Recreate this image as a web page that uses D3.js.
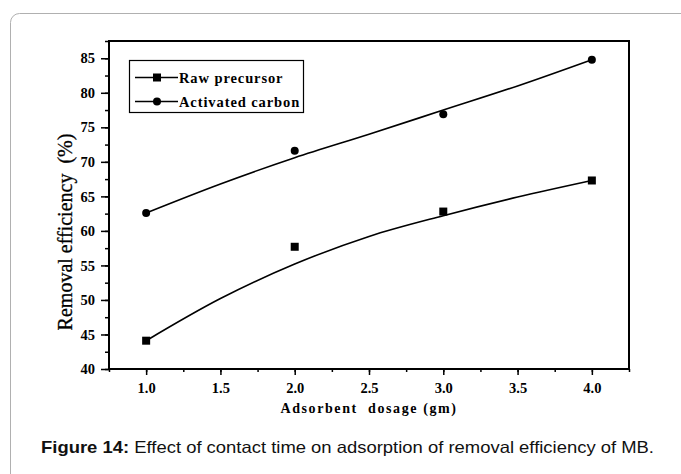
<!DOCTYPE html>
<html>
<head>
<meta charset="utf-8">
<title>Removal efficiency vs adsorbent dosage</title>
<script src="https://d3js.org/d3.v7.min.js"></script>
<style type="text/css">
	body { margin: 0; background: #fff; }
	svg { display: block; }
	.tick text { font-family: "Liberation Serif", "Times New Roman", serif; font-weight: bold; font-size: 14.5px; fill: #000; }
</style>
</head>
<body>
<div id="chart"></div>
<script type="text/javascript">
// measured points
var dosage = [1.0, 2.0, 3.0, 4.0];
var rawPrecursor = [44.1, 57.7, 62.8, 67.3];
var activatedCarbon = [62.6, 71.6, 76.9, 84.8];

// fitted curves
var fitDosage = [1.0, 1.5, 2.0, 2.5, 3.0, 3.5, 4.0];
var rawFit = [44.1, 50.2, 55.2, 59.2, 62.2, 64.9, 67.3];
var carbonFit = [62.6, 66.8, 70.6, 74.0, 77.5, 81.0, 84.8];

var xTicks = [1.0, 1.5, 2.0, 2.5, 3.0, 3.5, 4.0];
var yTicks = [40, 45, 50, 55, 60, 65, 70, 75, 80, 85];

var W = 681, H = 474;
var plotLeft = 109, plotRight = 629, plotTop = 41, plotBottom = 369;

var svg = d3.select("#chart")
	.append("svg")
	.attr("width", W)
	.attr("height", H);

svg.append("rect")
	.attr("width", W).attr("height", H)
	.attr("fill", "#fff");

// outer figure frame (runs off the right and bottom)
svg.append("rect")
	.attr("x", 10.5).attr("y", 13.5)
	.attr("width", 700).attr("height", 500)
	.attr("rx", 9)
	.attr("fill", "none")
	.attr("stroke", "#b0b0b0")
	.attr("stroke-width", 1);

var x = d3.scaleLinear().domain([0.75, 4.25]).range([plotLeft, plotRight]);
var y = d3.scaleLinear().domain([40, 87.5]).range([plotBottom, plotTop]);

// minor ticks
var xMinor = d3.range(0.75, 4.26, 0.25);
var yMinor = d3.range(40, 87.6, 2.5);

function thinTicks(g) {
	g.select(".domain").remove();
	g.selectAll("line").attr("stroke-width", 1.5);
}

svg.append("g")
	.attr("transform", "translate(0," + plotBottom + ")")
	.call(d3.axisBottom(x).tickValues(xMinor).tickSize(3).tickFormat(""))
	.call(thinTicks);

svg.append("g")
	.attr("transform", "translate(" + plotLeft + ",0)")
	.call(d3.axisLeft(y).tickValues(yMinor).tickSize(4).tickFormat(""))
	.call(thinTicks);

// major ticks + labels
svg.append("g")
	.attr("transform", "translate(0," + plotBottom + ")")
	.call(d3.axisBottom(x).tickValues(xTicks).tickSize(6).tickPadding(8).tickFormat(d3.format(".1f")))
	.call(thinTicks);

svg.append("g")
	.attr("transform", "translate(" + plotLeft + ",0)")
	.call(d3.axisLeft(y).tickValues(yTicks).tickSize(8).tickPadding(6))
	.call(thinTicks);

// plot box
svg.append("rect")
	.attr("x", plotLeft).attr("y", plotTop)
	.attr("width", plotRight - plotLeft).attr("height", plotBottom - plotTop)
	.attr("fill", "none")
	.attr("stroke", "#000")
	.attr("stroke-width", 2);

// fitted lines
var line = d3.line()
	.x(function(d) { return x(d[0]); })
	.y(function(d) { return y(d[1]); })
	.curve(d3.curveCatmullRom);

svg.append("path")
	.datum(d3.zip(fitDosage, rawFit))
	.attr("d", line)
	.attr("fill", "none").attr("stroke", "#000").attr("stroke-width", 1.6);

svg.append("path")
	.datum(d3.zip(fitDosage, carbonFit))
	.attr("d", line)
	.attr("fill", "none").attr("stroke", "#000").attr("stroke-width", 1.6);

// markers
svg.selectAll(".sq")
	.data(d3.zip(dosage, rawPrecursor))
	.enter().append("rect")
	.attr("class", "sq")
	.attr("x", function(d) { return x(d[0]) - 4; })
	.attr("y", function(d) { return y(d[1]) - 4; })
	.attr("width", 8).attr("height", 8)
	.attr("fill", "#000");

svg.selectAll(".dot")
	.data(d3.zip(dosage, activatedCarbon))
	.enter().append("circle")
	.attr("class", "dot")
	.attr("cx", function(d) { return x(d[0]); })
	.attr("cy", function(d) { return y(d[1]); })
	.attr("r", 4)
	.attr("fill", "#000");

// legend
var legend = svg.append("g");
legend.append("rect")
	.attr("x", 129.5).attr("y", 60.5)
	.attr("width", 174).attr("height", 52)
	.attr("fill", "#fff").attr("stroke", "#000").attr("stroke-width", 1.2);

var legendItems = ["Raw precursor", "Activated carbon"];
legendItems.forEach(function(name, i) {
	var ly = 77.5 + i * 24;
	legend.append("line")
		.attr("x1", 135).attr("x2", 178)
		.attr("y1", ly).attr("y2", ly)
		.attr("stroke", "#000").attr("stroke-width", 1.6);
	if (i == 0) {
		legend.append("rect").attr("x", 153).attr("y", ly - 4).attr("width", 8).attr("height", 8).attr("fill", "#000");
	} else {
		legend.append("circle").attr("cx", 157).attr("cy", ly).attr("r", 4).attr("fill", "#000");
	}
	legend.append("text")
		.attr("x", 179).attr("y", ly + 5)
		.attr("font-family", "Liberation Serif, serif")
		.attr("font-weight", "bold")
		.attr("font-size", 14.5)
		.attr("letter-spacing", 0.9)
		.text(name);
});

// axis titles
svg.append("text")
	.attr("x", (plotLeft + plotRight) / 2).attr("y", 413)
	.attr("text-anchor", "middle")
	.attr("font-family", "Liberation Serif, serif")
	.attr("font-weight", "bold")
	.attr("font-size", 14)
	.attr("letter-spacing", 1.6)
	.attr("xml:space", "preserve")
	.text("Adsorbent  dosage (gm)");

svg.append("text")
	.attr("transform", "translate(72,232) rotate(-90)")
	.attr("text-anchor", "middle")
	.attr("font-family", "Liberation Serif, serif")
	.attr("font-size", 20)
	.attr("stroke", "#000")
	.attr("stroke-width", 0.3)
	.attr("xml:space", "preserve")
	.text("Removal efficiency  (%)");

// caption
var cap = svg.append("text")
	.attr("x", 41).attr("y", 453)
	.attr("font-family", "Liberation Sans, Arial, sans-serif")
	.attr("font-size", 16.5)
	.attr("fill", "#111")
	.attr("textLength", 613)
	.attr("lengthAdjust", "spacingAndGlyphs");
cap.append("tspan").attr("font-weight", "bold").text("Figure 14:");
cap.append("tspan").text(" Effect of contact time on adsorption of removal efficiency of MB.");
</script>
</body>
</html>
